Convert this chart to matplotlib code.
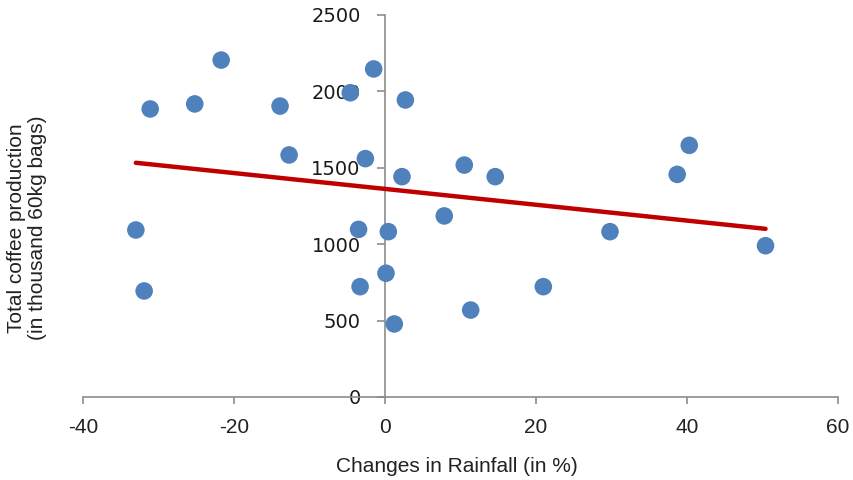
import numpy as np
import matplotlib
matplotlib.use("Agg")
import matplotlib.pyplot as plt

# Data
rainfall_change = [-21.7, -31.1, -25.2, -13.9, -12.7, -33.0, -31.9,
                   -4.6, -1.5, 2.7, -2.6, 2.25, 10.5, 14.6,
                   -3.5, 0.44, 7.85, 0.13, -3.3, 1.23, 11.35,
                   20.97, 29.8, 38.7, 40.3, 50.4]
coffee_production = [2205, 1885, 1918, 1904, 1584, 1093, 694,
                     1991, 2147, 1944, 1560, 1442, 1518, 1442,
                     1097, 1082, 1185, 810, 722, 478, 569,
                     722, 1082, 1457, 1647, 990]
x_ticks = [-40, -20, 0, 20, 40, 60]
y_ticks = [0, 500, 1000, 1500, 2000, 2500]

x = np.array(rainfall_change)
y = np.array(coffee_production)

fig = plt.figure(figsize=(8.54, 4.8), dpi=100)
ax = fig.add_axes([83/854, 1-397/480, (838-83)/854, (397-15)/480])

ax.scatter(x, y, s=160, color="#4F81BD", edgecolors="none", zorder=3)

# linear trendline
m, b = np.polyfit(x, y, 1)
xt = np.array([x.min(), x.max()])
ax.plot(xt, m*xt + b, color="#C00000", lw=3.2, solid_capstyle="round", zorder=4)

ax.set_xlim(-40, 60)
ax.set_ylim(0, 2500)
ax.set_xticks(x_ticks)
ax.set_yticks(y_ticks)
ax.set_xticklabels([str(t) for t in x_ticks])
ax.set_yticklabels([str(t) for t in y_ticks])

for s in ["top", "right"]:
    ax.spines[s].set_visible(False)
ax.spines["left"].set_position(("data", 0))
ax.spines["bottom"].set_position(("data", 0))
for s in ["left", "bottom"]:
    ax.spines[s].set_color("#8c8c8c")
    ax.spines[s].set_linewidth(1.2)

ax.tick_params(axis="x", direction="out", length=5, width=1.2, color="#8c8c8c",
               pad=10, labelsize=15, labelcolor="#222222")
ax.tick_params(axis="y", direction="out", length=5.5, width=1.2, color="#8c8c8c",
               pad=12, labelsize=14, labelcolor="#1a1a1a")
for lab in ax.get_xticklabels():
    lab.set_fontfamily("Liberation Sans")
for lab in ax.get_yticklabels():
    lab.set_fontfamily("DejaVu Sans")

fig.text(457/854, 1-466/480, "Changes in Rainfall (in %)", ha="center", va="center",
         fontfamily="Liberation Sans", fontsize=15, color="#222222")
fig.text(27/854, 1-228/480, "Total coffee production\n(in thousand 60kg bags)",
         rotation=90, ha="center", va="center", multialignment="center",
         fontfamily="Liberation Sans", fontsize=15, color="#222222", linespacing=1.1)

fig.savefig("out.png", dpi=100)
